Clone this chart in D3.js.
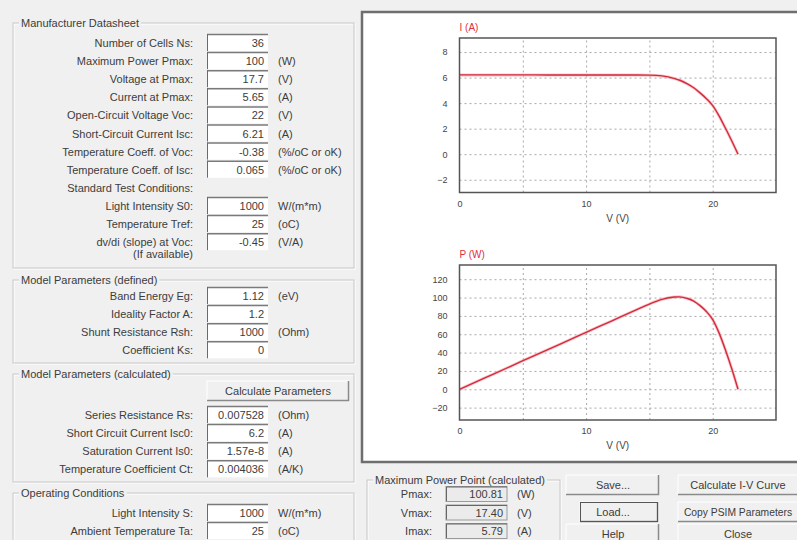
<!DOCTYPE html>
<html>
<head>
<meta charset="utf-8">
<script src="https://cdn.jsdelivr.net/npm/d3@7"></script>
<style>
  body { margin: 0; background: #f0f0f0; }
  svg { display: block; font-family: "Liberation Sans", Arial, sans-serif; }
  .lbl { font-size: 11px; fill: #3c3c3c; }
  .tick text { font-size: 9px; fill: #444; }
</style>
</head>
<body>
<div id="chart"></div>
<script>
// I-V and P-V curve
var volts   = [0, 2, 4, 6, 8, 10, 12, 14, 15, 16, 17, 17.4, 18, 18.5, 19, 19.5, 20, 20.5, 21, 21.5, 22];
var current = [6.21, 6.21, 6.21, 6.21, 6.2, 6.2, 6.2, 6.2, 6.19, 6.13, 5.92, 5.79, 5.5, 5.2, 4.8, 4.35, 3.8, 3.0, 2.05, 1.05, 0];
var power   = [0, 12.4, 24.8, 37.3, 49.6, 62, 74.4, 86.8, 92.9, 98.1, 100.6, 100.8, 99, 96.2, 91.2, 84.8, 76, 61.5, 43.1, 22.6, 0];

var iTicks = [-2, 0, 2, 4, 6, 8];
var pTicks = [-20, 0, 20, 40, 60, 80, 100, 120];
var vGrid = [5, 10, 15, 20];
var vLabels = [0, 10, 20];

// dialog texts
var dsLabels = ["Number of Cells Ns:", "Maximum Power Pmax:", "Voltage at Pmax:", "Current at Pmax:",
                "Open-Circuit Voltage Voc:", "Short-Circuit Current Isc:", "Temperature Coeff. of Voc:", "Temperature Coeff. of Isc:"];
var dsValues = ["36", "100", "17.7", "5.65", "22", "6.21", "-0.38", "0.065"];
var dsUnits  = ["", "(W)", "(V)", "(A)", "(V)", "(A)", "(%/oC or oK)", "(%/oC or oK)"];

var stcLabels = ["Light Intensity S0:", "Temperature Tref:", "dv/di (slope) at Voc:"];
var stcValues = ["1000", "25", "-0.45"];
var stcUnits  = ["W/(m*m)", "(oC)", "(V/A)"];

var defLabels = ["Band Energy Eg:", "Ideality Factor A:", "Shunt Resistance Rsh:", "Coefficient Ks:"];
var defValues = ["1.12", "1.2", "1000", "0"];
var defUnits  = ["(eV)", "", "(Ohm)", ""];

var calcLabels = ["Series Resistance Rs:", "Short Circuit Current Isc0:", "Saturation Current Is0:", "Temperature Coefficient Ct:"];
var calcValues = ["0.007528", "6.2", "1.57e-8", "0.004036"];
var calcUnits  = ["(Ohm)", "(A)", "(A)", "(A/K)"];

var opLabels = ["Light Intensity S:", "Ambient Temperature Ta:"];
var opValues = ["1000", "25"];
var opUnits  = ["W/(m*m)", "(oC)"];

var mppLabels = ["Pmax:", "Vmax:", "Imax:"];
var mppValues = ["100.81", "17.40", "5.79"];
var mppUnits  = ["(W)", "(V)", "(A)"];

var leftButtons = ["Save...", "Load...", "Help"];
var rightButtons = ["Calculate I-V Curve", "Copy PSIM Parameters", "Close"];

var W = 797, H = 540;
var svg = d3.select("#chart").append("svg").attr("width", W).attr("height", H);
svg.append("rect").attr("width", W).attr("height", H).attr("fill", "#f0f0f0");

// ---------- left form ----------
var rowH = 18.1;
var labelX = 193, boxX = 207, boxW = 61, unitX = 278;

function groupBox(title, y0, y1, x0, x1) {
    x0 = x0 || 13; x1 = x1 || 354;
    var g = svg.append("g");
    g.append("rect").attr("x", x0 + 1).attr("y", y0 + 1).attr("width", x1 - x0).attr("height", y1 - y0)
        .attr("fill", "none").attr("stroke", "#fff");
    g.append("rect").attr("x", x0).attr("y", y0).attr("width", x1 - x0).attr("height", y1 - y0)
        .attr("fill", "none").attr("stroke", "#c8c8c8");
    var t = g.append("text").attr("class", "lbl").attr("x", x0 + 8).attr("y", y0 + 4).text(title);
    var bb = t.node().getBBox();
    g.insert("rect", "text").attr("x", bb.x - 2).attr("y", bb.y).attr("width", bb.width + 4).attr("height", bb.height)
        .attr("fill", "#f0f0f0");
}

function field(y, label, value, unit) {
    var g = svg.append("g");
    g.append("text").attr("class", "lbl").attr("x", labelX).attr("y", y + 4)
        .attr("text-anchor", "end").text(label);
    g.append("rect").attr("x", boxX).attr("y", y - 9).attr("width", boxW).attr("height", 17)
        .attr("fill", "#fff");
    g.append("line").attr("x1", boxX).attr("x2", boxX + boxW).attr("y1", y - 8.5).attr("y2", y - 8.5)
        .attr("stroke", "#7a7a7a").attr("stroke-width", 1.5);
    g.append("line").attr("x1", boxX + 0.5).attr("x2", boxX + 0.5).attr("y1", y - 9).attr("y2", y + 8)
        .attr("stroke", "#6a6a6a");
    g.append("text").attr("class", "lbl").attr("x", boxX + boxW - 4).attr("y", y + 4)
        .attr("text-anchor", "end").text(value);
    if (unit) g.append("text").attr("class", "lbl").attr("x", unitX).attr("y", y + 4).text(unit);
}

function button(x, y, w, h, label, focused, tx, fs) {
    var g = svg.append("g");
    g.append("rect").attr("x", x).attr("y", y).attr("width", w).attr("height", h).attr("fill", "#f0f0f0");
    g.append("path").attr("d", "M" + x + "," + (y + h) + "V" + y + "H" + (x + w))
        .attr("fill", "none").attr("stroke", "#fff");
    g.append("path").attr("d", "M" + x + "," + (y + h - 0.5) + "H" + (x + w - 0.5) + "V" + y)
        .attr("fill", "none").attr("stroke", "#8a8a8a").attr("stroke-width", 1.5);
    if (focused) {
        g.append("rect").attr("x", x + 0.5).attr("y", y + 0.5).attr("width", w - 1).attr("height", h - 1)
            .attr("fill", "none").attr("stroke", "#555");
    }
    g.append("text").attr("class", "lbl").attr("x", tx || x + w / 2).attr("y", y + h / 2 + 4)
        .attr("text-anchor", "middle").style("font-size", fs || null).text(label);
}

groupBox("Manufacturer Datasheet", 23, 268);
dsLabels.forEach(function(l, i) { field(43 + i * rowH, l, dsValues[i], dsUnits[i]); });
svg.append("text").attr("class", "lbl").attr("x", labelX).attr("y", 192).attr("text-anchor", "end")
    .text("Standard Test Conditions:");
stcLabels.forEach(function(l, i) { field(206 + i * rowH, l, stcValues[i], stcUnits[i]); });
svg.append("text").attr("class", "lbl").attr("x", labelX).attr("y", 258).attr("text-anchor", "end")
    .text("(If available)");

groupBox("Model Parameters (defined)", 280, 363);
defLabels.forEach(function(l, i) { field(296 + i * rowH, l, defValues[i], defUnits[i]); });

groupBox("Model Parameters (calculated)", 374, 482);
button(207, 381, 142, 20, "Calculate Parameters");
calcLabels.forEach(function(l, i) { field(415 + i * rowH, l, calcValues[i], calcUnits[i]); });

groupBox("Operating Conditions", 493, 560);
opLabels.forEach(function(l, i) { field(513 + i * rowH, l, opValues[i], opUnits[i]); });

// ---------- chart panel ----------
svg.append("rect").attr("x", 362).attr("y", 12).attr("width", 440).attr("height", 450)
    .attr("fill", "#fff").attr("stroke", "#6e6e6e").attr("stroke-width", 2.5);

var x = d3.scaleLinear().domain([0, 25]).range([459.5, 776]);
var yI = d3.scaleLinear().domain([-3, 9.1]).range([192.5, 38]);
var yP = d3.scaleLinear().domain([-33.5, 135.5]).range([420, 265]);

function plot(y, ticks, vals, title, top, bottom) {
    var g = svg.append("g");
    var w = x.range()[1] - x.range()[0];
    var h = bottom - top;

    // grid
    g.append("g").attr("transform", "translate(" + x.range()[0] + ",0)")
        .call(d3.axisLeft(y).tickValues(ticks).tickSizeInner(-w).tickSizeOuter(0).tickPadding(12))
        .call(function(a) { a.select(".domain").remove(); });
    g.append("g").attr("transform", "translate(0," + bottom + ")")
        .call(d3.axisBottom(x).tickValues(vGrid).tickSizeInner(-h).tickSizeOuter(0).tickFormat(""))
        .call(function(a) { a.select(".domain").remove(); });
    g.selectAll(".tick line").attr("stroke", "#a8a8a8").attr("stroke-dasharray", "2,3");

    // x labels
    g.append("g").attr("transform", "translate(0," + bottom + ")")
        .call(d3.axisBottom(x).tickValues(vLabels).tickSize(0).tickPadding(8).tickFormat(d3.format("d")))
        .call(function(a) { a.select(".domain").remove(); });

    // curve
    var pts = volts.map(function(v, i) { return [v, vals[i]]; });
    var line = d3.line().x(function(d) { return x(d[0]); }).y(function(d) { return y(d[1]); }).curve(d3.curveMonotoneX);
    g.append("path").datum(pts)
        .attr("fill", "none").attr("stroke", "#f4a0a8").attr("stroke-width", 3).attr("opacity", 0.6)
        .attr("d", line);
    g.append("path").datum(pts)
        .attr("fill", "none").attr("stroke", "#d42a3c").attr("stroke-width", 1.4)
        .attr("d", line);

    // frame
    g.append("rect").attr("x", x.range()[0]).attr("y", top).attr("width", w).attr("height", h)
        .attr("fill", "none").attr("stroke", "#555").attr("stroke-width", 1.5);

    g.append("text").attr("x", x.range()[0]).attr("y", top - 7).attr("fill", "#e03040")
        .style("font-size", "10px").text(title);
    g.append("text").attr("x", x(12.5)).attr("y", bottom + 29).attr("fill", "#444")
        .attr("text-anchor", "middle").style("font-size", "10px").text("V (V)");
}

plot(yI, iTicks, current, "I (A)", 38, 192.5);
plot(yP, pTicks, power, "P (W)", 265, 420);

// ---------- bottom area ----------
groupBox("Maximum Power Point (calculated)", 480, 560, 367, 560);
mppLabels.forEach(function(l, i) {
    var y = 494 + i * 18.5;
    svg.append("text").attr("class", "lbl").attr("x", 432).attr("y", y + 4).attr("text-anchor", "end").text(l);
    svg.append("rect").attr("x", 446).attr("y", y - 7.5).attr("width", 61).attr("height", 15)
        .attr("fill", "#ebebeb").attr("stroke", "#9a9a9a");
    svg.append("path").attr("d", "M446.5," + (y + 7) + "V" + (y - 7) + "H507")
        .attr("fill", "none").attr("stroke", "#666");
    svg.append("text").attr("class", "lbl").attr("x", 503).attr("y", y + 4).attr("text-anchor", "end").text(mppValues[i]);
    svg.append("text").attr("class", "lbl").attr("x", 517).attr("y", y + 4).text(mppUnits[i]);
});

var btnTop = [475, 502, 524];
leftButtons.forEach(function(l, i) {
    if (i === 1) button(580, btnTop[i], 78, 20, l, true, 613);
    else button(566, btnTop[i], 93, 20, l, false, 613);
});
rightButtons.forEach(function(l, i) {
    button(678, btnTop[i], 130, 20, l, false, 738, i === 1 ? "10.3px" : null);
});
</script>
</body>
</html>
